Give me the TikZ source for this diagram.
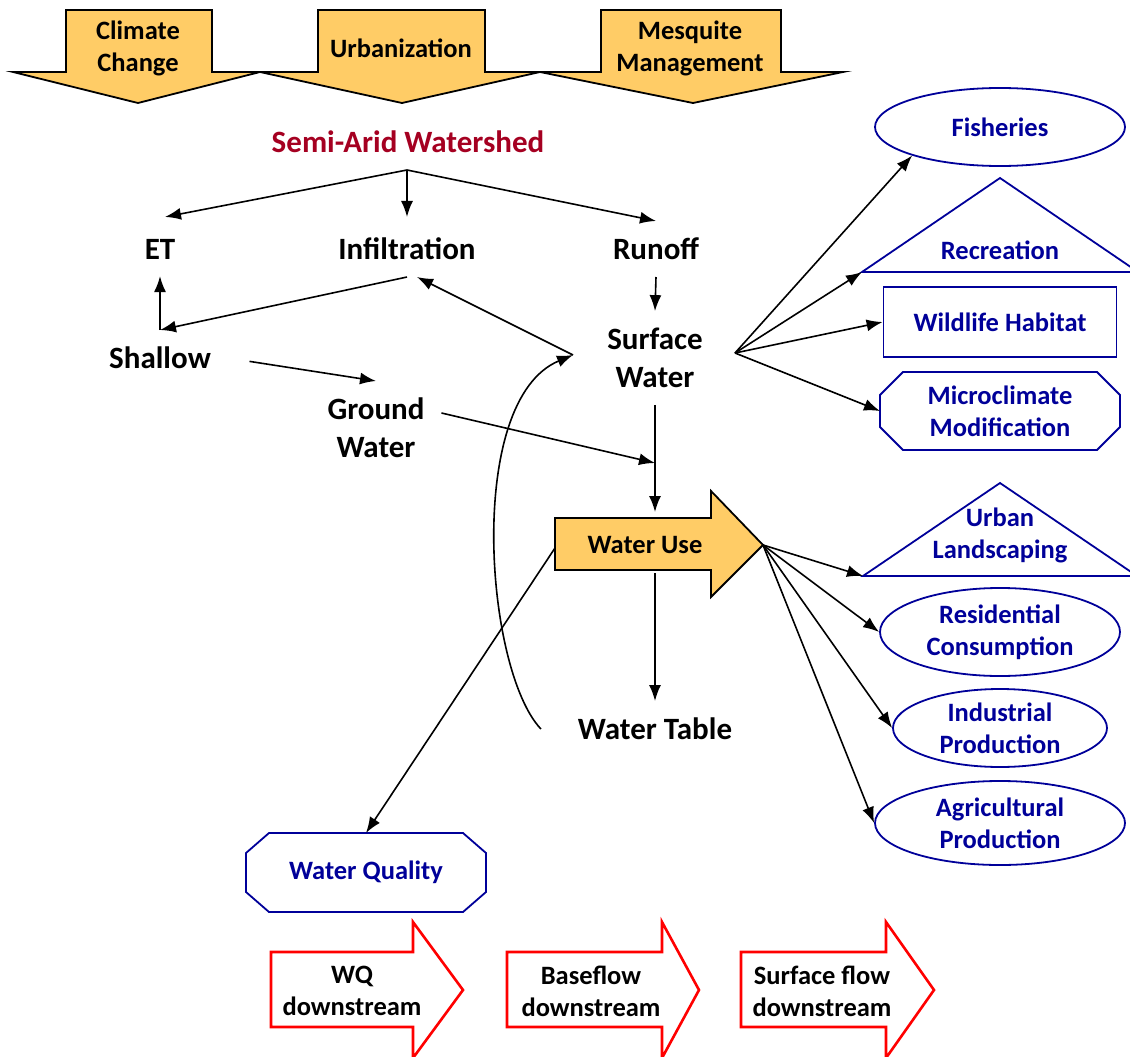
\documentclass[tikz,border=0pt]{standalone}
\usepackage{fontspec}
\setmainfont{Carlito}
\usetikzlibrary{arrows.meta,shapes.geometric}
\definecolor{boxorange}{RGB}{255,204,102}
\definecolor{darkblue}{RGB}{0,0,153}
\definecolor{wine}{RGB}{165,0,33}

\begin{document}
\begin{tikzpicture}[x=1pt,y=-1pt,
    arr/.style={-{Latex[length=16pt,width=12pt]},line width=1.6pt},
    lbl/.style={font=\fontsize{31}{38}\selectfont\bfseries,align=center,inner sep=0pt,outer sep=17pt},
    smalltxt/.style={font=\fontsize{26.5}{32}\selectfont\bfseries,align=center,inner sep=0pt},
    ecotxt/.style={smalltxt,text=darkblue},
    ecobox/.style={ecotxt,draw=darkblue,line width=1.8pt},
    ecoline/.style={draw=darkblue,line width=1.8pt},
    push/.style={fill=boxorange,draw=black,line width=1.8pt},
    flow/.style={fill=white,draw=red,line width=2.6pt}]
    \useasboundingbox (0,0) rectangle (1130,1057);

    \filldraw[push] (66,10) -- (212,10) -- (212,72) -- (260,72) -- (138,103) -- (13,72) -- (66,72) -- cycle;
    \filldraw[push] (318,10) -- (485,10) -- (485,72) -- (540,72) -- (402,103) -- (260,72) -- (318,72) -- cycle;
    \filldraw[push] (601,10) -- (781,10) -- (781,72) -- (843,72) -- (693,103) -- (540,72) -- (601,72) -- cycle;
    \node[smalltxt] (clim) at (138,48) {Climate\\Change};
    \node[smalltxt] (urb) at (401,48) {Urbanization};
    \node[smalltxt] (mesq) at (690,48) {Mesquite\\Management};

    \node[lbl,text=wine,outer sep=0pt] (semi) at (408,142) {Semi-Arid Watershed};
    \coordinate (jn) at (407,170);
    \node[lbl] (et) at (160,249) {ET};
    \node[lbl] (inf) at (407,249) {Infiltration};
    \node[lbl] (run) at (656,249) {Runoff};
    \node[lbl] (sh) at (160,358) {Shallow};
    \node[lbl] (gw) at (376,428) {Ground\\Water};
    \node[lbl] (surf) at (655,358) {Surface\\Water};
    \node[lbl] (wt) at (655,729) {Water Table};
    \coordinate (sw-l) at (573,355);
    \coordinate (sw-r) at (735,353);

    \filldraw[push] (555,518) -- (711,518) -- (711,491) -- (763,545) coordinate (wu-tip) -- (711,597) -- (711,570) -- (555,570) -- cycle;
    \node[smalltxt] (wu) at (645,545) {Water Use};
    \coordinate (wu-in) at (655,518);
    \coordinate (wu-out) at (655,573);
    \coordinate (wu-l) at (555,548);
    \coordinate (gw-in) at (655,463);

    \node[ecobox,ellipse,minimum width=250pt,minimum height=78pt] (fish) at (1000,127) {Fisheries};
    \draw[ecoline] (862,272) coordinate (rec-l) -- (1000,178) -- (1138,272) -- cycle;
    \node[ecotxt] (rec) at (1000,250) {Recreation};
    \node[ecobox,rectangle,minimum width=233pt,minimum height=70pt] (wild) at (1000,322) {Wildlife Habitat};
    \draw[ecoline] (903,372) -- (1097,372) -- (1120,395) -- (1120,427) -- (1097,450) -- (903,450) -- (880,427) -- (880,395) -- cycle;
    \coordinate (micro-w) at (880,411);
    \node[ecotxt] (micro) at (1000,411) {Microclimate\\Modification};

    \draw[ecoline] (863,576) coordinate (urb-l) -- (1000,483) -- (1137,576) -- cycle;
    \node[ecotxt] (land) at (1000,535) {Urban\\Landscaping};
    \node[ecobox,ellipse,minimum width=240pt,minimum height=88pt] (res) at (1000,632) {Residential\\Consumption};
    \node[ecobox,ellipse,minimum width=214pt,minimum height=78pt] (ind) at (1000,728) {Industrial\\Production};
    \node[ecobox,ellipse,minimum width=250pt,minimum height=84pt] (agr) at (1000,823) {Agricultural\\Production};
    \draw[ecoline] (269,833) -- (463,833) -- (486,853) -- (486,892) -- (463,912) -- (269,912) -- (246,892) -- (246,853) -- cycle;
    \coordinate (wq-n) at (366,833);
    \node[ecotxt] (wq) at (366,872) {Water Quality};

    \filldraw[flow] (271,952) -- (413,952) -- (413,922) -- (463,990) -- (413,1058) -- (413,1027) -- (271,1027) -- cycle;
    \filldraw[flow] (507,952) -- (662,952) -- (662,922) -- (699,990) -- (662,1058) -- (662,1027) -- (507,1027) -- cycle;
    \filldraw[flow] (741,952) -- (886,952) -- (886,922) -- (934,990) -- (886,1058) -- (886,1027) -- (741,1027) -- cycle;
    \node[smalltxt] (wqd) at (352,991) {WQ\\downstream};
    \node[smalltxt] (bfd) at (591,991) {Baseflow\\downstream};
    \node[smalltxt] (sfd) at (822,991) {Surface flow\\downstream};

    \draw[arr] (jn) -- ([xshift=5pt,yshift=5pt]et.north);
    \draw[arr] (jn) -- ([yshift=4pt]inf.north);
    \draw[arr] (jn) -- (run.north);
    \draw[arr] (run.south) -- (surf.north);
    \draw[arr] (inf.south) -- (sh.north);
    \draw[arr] (sh.north) -- (et.south);
    \draw[arr,shorten <=22pt] (sh.east) -- (gw.north);
    \draw[arr] ([yshift=15pt]gw.east) -- (gw-in);
    \draw[arr,shorten >=6pt] (surf.south) -- (wu-in);
    \draw[arr] (sw-l) -- ([xshift=10pt]inf.south);
    \draw[arr] ([xshift=-20pt]wt.west) .. controls (485,670) and (465,400) .. (sw-l);
    \draw[arr] (wu-out) -- (wt.north);
    \draw[arr] (wu-l) -- (wq-n);
    \draw[arr] (sw-r) -- (fish.198);
    \draw[arr] (sw-r) -- (rec-l);
    \draw[arr] (sw-r) -- (wild.west);
    \draw[arr] (sw-r) -- (micro-w);
    \draw[arr] (wu-tip) -- (urb-l);
    \draw[arr] (wu-tip) -- (res.west);
    \draw[arr] (wu-tip) -- (ind.west);
    \draw[arr] (wu-tip) -- (agr.west);
\end{tikzpicture}
\end{document}
